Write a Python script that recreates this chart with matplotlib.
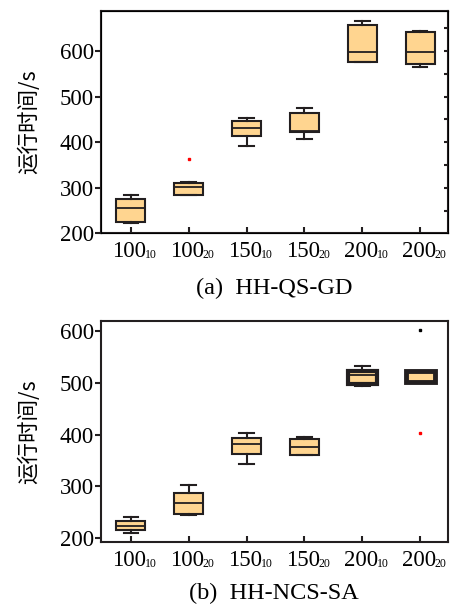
import numpy as np
import matplotlib
matplotlib.use('Agg')
import matplotlib.pyplot as plt

plt.rcParams['font.family'] = ['Liberation Serif', 'Noto Sans CJK SC']
plt.rcParams['font.size'] = 16.5

# 数据 ************************************************************************
etiq_main = ['100', '100', '150', '150', '200', '200']
etiq_sub  = ['10', '20', '10', '20', '10', '20']

# (a) HH-QS-GD
a_whislo = [223, 283, 392, 406, 575, 564]
a_q1     = [225, 285, 414, 422, 576, 571]
a_med    = [256, 301, 431, 424, 598, 599]
a_q3     = [276, 311, 446, 465, 657, 642]
a_whishi = [283, 312, 453, 476, 666, 644]
a_flier  = [[], [362], [], [], [], []]

# (b) HH-NCS-SA
b_whislo = [210, 244, 344, 360, 495, 502]
b_q1     = [215, 247, 363, 361, 498, 502]
b_med    = [224, 268, 383, 377, 515, 522]
b_q3     = [233, 288, 393, 392, 524, 524]
b_whishi = [240, 302, 404, 395, 533, 524]
b_flier  = [[], [], [], [], [], [403]]
b_extra_x = [6]
b_extra_y = [603]

fill = '#FFD590'
edge = '#231f20'


def stats(wlo, q1, med, q3, whi, fl):
    return [dict(whislo=wlo[i], q1=q1[i], med=med[i], q3=q3[i], whishi=whi[i],
                 fliers=fl[i]) for i in range(len(wlo))]


fig = plt.figure(figsize=(4.59, 6.08), dpi=100)
ax1 = fig.add_axes([0.2194, 0.6163, 0.7567, 0.3656])
ax2 = fig.add_axes([0.2194, 0.1081, 0.7567, 0.3640])


def dibujar(ax, st, lws):
    for i, s in enumerate(st):
        ax.bxp([s], positions=[i + 1], widths=0.5, patch_artist=True,
               boxprops=dict(facecolor=fill, edgecolor=edge, linewidth=lws[i]),
               medianprops=dict(color=edge, linewidth=1.3),
               whiskerprops=dict(color=edge, linewidth=1.5),
               capprops=dict(color=edge, linewidth=1.5),
               capwidths=0.25,
               flierprops=dict(marker='s', markersize=2, markerfacecolor='red',
                               markeredgecolor='red'))
    ax.set_xticks(range(1, len(etiq_main) + 1))
    ax.set_xticklabels([])
    ax.set_xlim(0.48, 6.48)
    # etiquetas con subindice pequeño
    for i, (m, s) in enumerate(zip(etiq_main, etiq_sub)):
        ax.annotate(m, xy=(i + 1, 0), xycoords=('data', 'axes fraction'),
                    xytext=(-1.0, -16.8), textcoords='offset points',
                    ha='center', va='baseline', fontsize=16.5)
        ax.annotate(s, xy=(i + 1, 0), xycoords=('data', 'axes fraction'),
                    xytext=(10.3, -17.6), textcoords='offset points',
                    ha='left', va='baseline', fontsize=8.5)
    for sp in ax.spines.values():
        sp.set_linewidth(1.5)
        sp.set_color(edge)
    ax.tick_params(axis='x', direction='in', length=4, width=1.5, color=edge)
    ax.tick_params(axis='y', direction='out', length=4, width=1.5, pad=1, color=edge)
    ax.set_ylabel('运行时间/s', family=['Noto Sans CJK SC'], fontsize=15.5,
                  fontweight='light', labelpad=14)


dibujar(ax1, stats(a_whislo, a_q1, a_med, a_q3, a_whishi, a_flier), [1.5] * 6)
ax1.set_ylim(202, 688)
ax1.set_yticks([200, 300, 400, 500, 600])
# marcas del eje derecho cada 50
ax1r = ax1.twinx()
ax1r.set_ylim(ax1.get_ylim())
ax1r.set_yticks(np.arange(250, 700, 50))
ax1r.tick_params(axis='y', direction='in', length=3, width=1.5, labelright=False,
                 color=edge)

dibujar(ax2, stats(b_whislo, b_q1, b_med, b_q3, b_whishi, b_flier),
        [1.5, 1.5, 1.5, 1.5, 3, 3.5])
ax2.plot(b_extra_x, b_extra_y, 's', ms=1.8, color='black')
ax2.set_ylim(192, 620)
ax2.set_yticks([200, 300, 400, 500, 600])

fig.text(0.597, 0.525, '(a)  HH-QS-GD', ha='center', va='center', fontsize=17.5)
fig.text(0.597, 0.024, '(b)  HH-NCS-SA', ha='center', va='center', fontsize=17.5)

fig.savefig('out.png', dpi=100)
